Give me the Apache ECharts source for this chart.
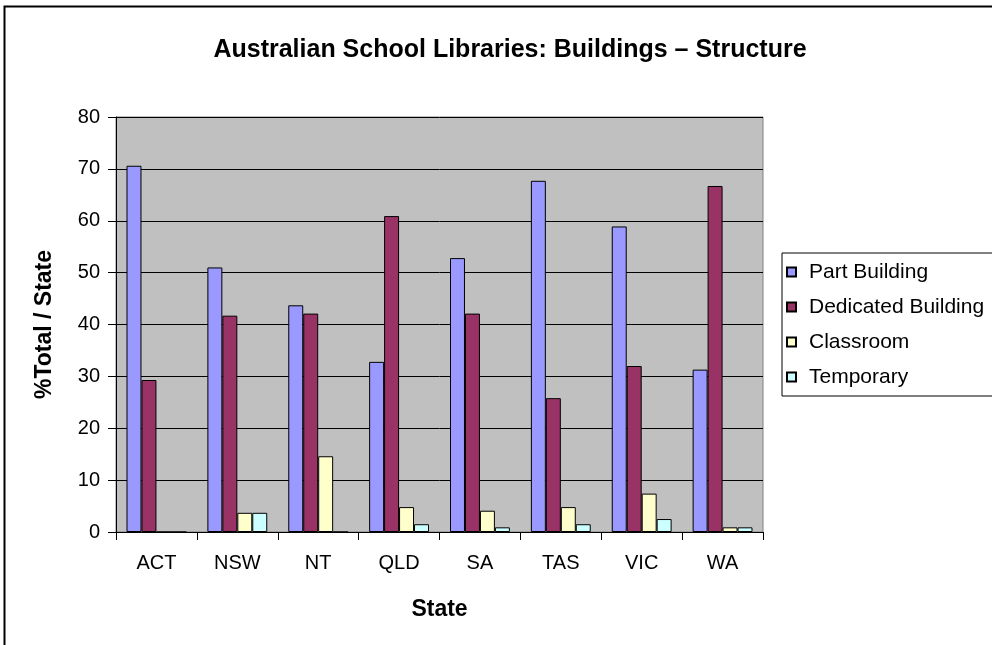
<!DOCTYPE html>
<html>
<head>
<meta charset="utf-8">
<script src="https://cdn.jsdelivr.net/npm/echarts@6/dist/echarts.min.js"></script>
<style>
  html, body { margin: 0; padding: 0; background: #fff; }
  #chart { width: 992px; height: 645px; }
</style>
</head>
<body>
<div id="chart"></div>
<script>
var states = ['ACT', 'NSW', 'NT', 'QLD', 'SA', 'TAS', 'VIC', 'WA']
var partBuilding = [70.6, 51.0, 43.7, 32.8, 52.8, 67.7, 58.9, 31.3]
var dedicatedBuilding = [29.3, 41.7, 42.1, 60.9, 42.1, 25.8, 32.0, 66.7]
var classroom = [0, 3.7, 14.6, 4.8, 4.1, 4.8, 7.4, 0.9]
var temporary = [0, 3.7, 0, 1.5, 0.9, 1.5, 2.5, 0.9]

var font = 'Liberation Sans, Arial, sans-serif'
var myChart = echarts.init(document.getElementById('chart'))

function bar (name, data, color) {
  return {
    name: name,
    type: 'bar',
    data: data,
    barGap: '0%',
    barCategoryGap: '26%',
    itemStyle: { color: color, borderColor: '#000', borderWidth: 1 }
  }
}

var option = {
  backgroundColor: '#fff',
  animation: false,
  textStyle: { fontFamily: font },
  title: {
    text: 'Australian School Libraries: Buildings \u2013 Structure',
    left: 505,
    top: 33,
    textAlign: 'center',
    textStyle: { fontFamily: font, fontSize: 25, fontWeight: 'bold', color: '#000' }
  },
  graphic: [
    {
      type: 'rect',
      shape: { x: 4.5, y: 6.5, width: 1200, height: 900 },
      style: { fill: 'none', stroke: '#000', lineWidth: 2 },
      silent: true
    }
  ],
  legend: {
    orient: 'vertical',
    left: 782,
    top: 253,
    padding: [8, 30, 8, 4],
    itemGap: 13,
    itemWidth: 9,
    itemHeight: 9,
    icon: 'rect',
    borderColor: '#000',
    borderWidth: 1,
    textStyle: { fontFamily: font, fontSize: 21, color: '#000', lineHeight: 22, padding: [0, 0, 0, 8] },
    data: ['Part Building', 'Dedicated Building', 'Classroom', 'Temporary']
  },
  grid: {
    left: 116,
    top: 117,
    right: 229,
    bottom: 113,
    show: true,
    backgroundColor: '#c0c0c0',
    borderColor: '#808080',
    borderWidth: 1
  },
  xAxis: {
    type: 'category',
    data: states,
    name: 'State',
    nameLocation: 'middle',
    nameGap: 66,
    nameTextStyle: { fontFamily: font, fontSize: 23, fontWeight: 'bold', color: '#000' },
    axisLine: { lineStyle: { color: '#000', width: 1 } },
    axisTick: { show: true, alignWithLabel: false, length: 8, lineStyle: { color: '#000' } },
    axisLabel: { fontFamily: font, fontSize: 20, color: '#000', margin: 21 }
  },
  yAxis: {
    type: 'value',
    min: 0,
    max: 80,
    interval: 10,
    name: '%Total / State',
    nameLocation: 'middle',
    nameGap: 60,
    nameTextStyle: { fontFamily: font, fontSize: 23, fontWeight: 'bold', color: '#000' },
    axisLine: { show: true, lineStyle: { color: '#000', width: 1 } },
    axisTick: { show: true, length: 8, lineStyle: { color: '#000' } },
    axisLabel: { fontFamily: font, fontSize: 20, color: '#000', margin: 16 },
    splitLine: { show: true, lineStyle: { color: '#000', width: 1 } }
  },
  series: [
    bar('Part Building', partBuilding, '#9999ff'),
    bar('Dedicated Building', dedicatedBuilding, '#993366'),
    bar('Classroom', classroom, '#ffffcc'),
    bar('Temporary', temporary, '#ccffff')
  ]
}

myChart.setOption(option)
</script>
</body>
</html>
